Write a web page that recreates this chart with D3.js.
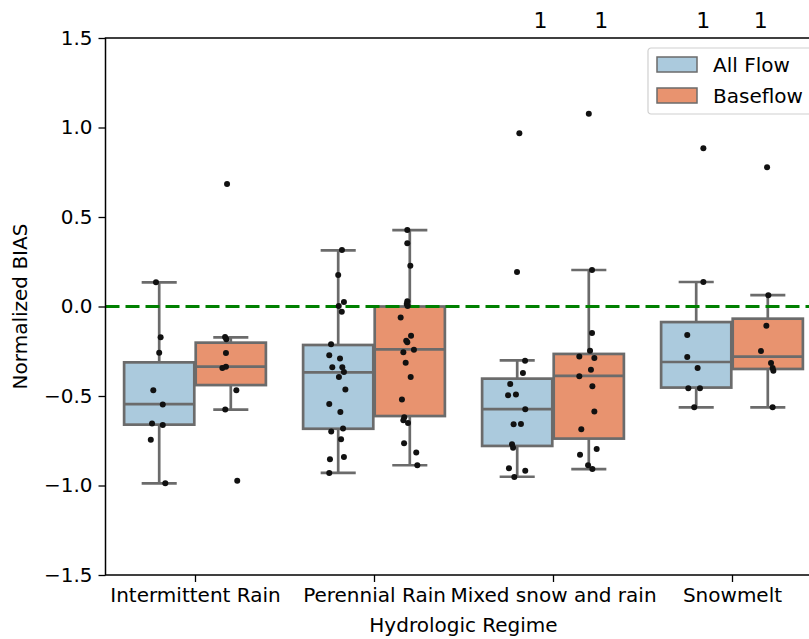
<!DOCTYPE html>
<html>
<head>
<meta charset="utf-8">
<script src="https://cdn.jsdelivr.net/npm/d3@7"></script>
<style>
  body { margin: 0; background: #fff; }
  svg { display: block; font-family: "DejaVu Sans", sans-serif; }
</style>
</head>
<body>
<svg id="chart" width="809" height="639"></svg>
<script>
var categories = ["Intermittent Rain", "Perennial Rain", "Mixed snow and rain", "Snowmelt"];
var hueNames = ["All Flow", "Baseflow"];
var hueColors = ["#abcadd", "#e8936f"];
var yTicks = [-1.5, -1.0, -0.5, 0.0, 0.5, 1.0, 1.5];

// [whisker low, q1, median, q3, whisker high] per category
var allFlowBox = [
  [-0.988, -0.660, -0.545, -0.312, 0.135],
  [-0.930, -0.683, -0.368, -0.215, 0.314],
  [-0.951, -0.779, -0.573, -0.403, -0.301],
  [-0.563, -0.453, -0.310, -0.087, 0.137]
];
var baseflowBox = [
  [-0.576, -0.439, -0.336, -0.202, -0.172],
  [-0.887, -0.612, -0.239, 0.000, 0.427],
  [-0.908, -0.738, -0.388, -0.265, 0.204],
  [-0.563, -0.349, -0.280, -0.068, 0.063]
];

// points: [value, jitter in category units]
var allFlowPoints = [
  [[0.135,-0.018],[-0.172,0.008],[-0.258,0],[-0.468,-0.033],[-0.548,0.020],[-0.653,-0.040],[-0.662,0.020],[-0.744,-0.047],[-0.988,0.034]],
  [[0.316,0.021],[0.176,0],[0.025,0.032],[0.003,0.003],[-0.029,0.020],[-0.211,-0.040],[-0.273,-0.050],[-0.291,0.010],[-0.340,-0.033],[-0.340,0.023],[-0.366,0.032],[-0.394,0.004],[-0.463,0.040],[-0.545,-0.050],[-0.589,0.012],[-0.681,0.027],[-0.699,-0.039],[-0.742,0.016],[-0.854,-0.046],[-0.841,0.032],[-0.930,-0.050]],
  [[0.968,0.012],[0.193,-0.001],[-0.303,0.044],[-0.372,0.032],[-0.433,-0.039],[-0.496,-0.051],[-0.491,-0.007],[-0.574,0.045],[-0.658,-0.020],[-0.656,0.021],[-0.770,-0.029],[-0.789,-0.023],[-0.904,-0.046],[-0.917,0.045],[-0.953,-0.016]],
  [[0.884,0.040],[0.137,0.040],[-0.159,-0.050],[-0.282,-0.050],[-0.344,0.008],[-0.457,-0.044],[-0.457,0.021],[-0.563,-0.011]]
];
var baseflowPoints = [
  [[0.684,-0.021],[-0.170,-0.032],[-0.183,-0.025],[-0.260,-0.027],[-0.336,-0.027],[-0.344,-0.047],[-0.468,0.031],[-0.576,-0.031],[-0.973,0.036]],
  [[0.427,-0.014],[0.353,-0.014],[0.228,0.003],[0.029,-0.014],[0.014,-0.017],[0.003,-0.012],[-0.062,-0.051],[-0.163,0.007],[-0.191,-0.020],[-0.200,-0.014],[-0.241,0.023],[-0.256,-0.036],[-0.314,-0.023],[-0.394,0.005],[-0.519,-0.044],[-0.619,-0.031],[-0.636,-0.036],[-0.651,-0.010],[-0.764,-0.032],[-0.815,0.036],[-0.887,0.042]],
  [[1.077,0],[0.204,0.018],[-0.148,0.018],[-0.247,0.007],[-0.280,-0.053],[-0.288,0.031],[-0.353,0.012],[-0.390,-0.053],[-0.446,0.020],[-0.586,0.031],[-0.686,-0.042],[-0.828,-0.049],[-0.796,0.044],[-0.887,-0.004],[-0.908,0.020]],
  [[0.778,-0.004],[0.063,0.003],[-0.107,-0.008],[-0.249,-0.038],[-0.316,0.018],[-0.344,0.027],[-0.359,0.031],[-0.563,0.027]]
];

// "1" labels above the plot, x in category units
var topNotes = [[1.93, "1"], [2.27, "1"], [2.84, "1"], [3.16, "1"]];

var svg = d3.select("#chart"),
    margin = {top: 38, left: 105.5},
    width = 716,
    height = 537,
    g = svg.append("g").attr("transform", "translate(" + margin.left + "," + margin.top + ")");

var x = d3.scaleLinear().domain([-0.5, 3.5]).range([0, width]);
var y = d3.scaleLinear().domain([-1.5, 1.5]).range([height, 0]);

var hueOffset = [-0.2, 0.2],
    boxW = 0.392,
    lineCol = "#6b6b6b",
    fs = 20;

var groups = [allFlowBox, baseflowBox];
var pts = [allFlowPoints, baseflowPoints];

// boxes
groups.forEach(function(boxes, h) {
  boxes.forEach(function(s, i) {
    var cx = i + hueOffset[h];
    var bg = g.append("g");
    bg.append("line")
        .attr("x1", x(cx)).attr("x2", x(cx))
        .attr("y1", y(s[0])).attr("y2", y(s[1]))
        .attr("stroke", lineCol).attr("stroke-width", 2.7);
    bg.append("line")
        .attr("x1", x(cx)).attr("x2", x(cx))
        .attr("y1", y(s[3])).attr("y2", y(s[4]))
        .attr("stroke", lineCol).attr("stroke-width", 2.7);
    [s[0], s[4]].forEach(function(v) {
      bg.append("line")
          .attr("x1", x(cx - boxW / 4)).attr("x2", x(cx + boxW / 4))
          .attr("y1", y(v)).attr("y2", y(v))
          .attr("stroke", lineCol).attr("stroke-width", 2.7);
    });
    bg.append("rect")
        .attr("x", x(cx - boxW / 2))
        .attr("y", y(s[3]))
        .attr("width", x(cx + boxW / 2) - x(cx - boxW / 2))
        .attr("height", y(s[1]) - y(s[3]))
        .attr("fill", hueColors[h])
        .attr("stroke", lineCol).attr("stroke-width", 2.7);
    bg.append("line")
        .attr("x1", x(cx - boxW / 2)).attr("x2", x(cx + boxW / 2))
        .attr("y1", y(s[2])).attr("y2", y(s[2]))
        .attr("stroke", lineCol).attr("stroke-width", 2.7);
  });
});

// zero reference line
g.append("line")
    .attr("x1", 0).attr("x2", width)
    .attr("y1", y(0)).attr("y2", y(0))
    .attr("stroke", "#008000").attr("stroke-width", 3)
    .attr("stroke-dasharray", "14,6");

// strip points
pts.forEach(function(cats, h) {
  cats.forEach(function(list, i) {
    g.selectAll(null).data(list).enter().append("circle")
        .attr("cx", function(d) { return x(i + hueOffset[h] + d[1]); })
        .attr("cy", function(d) { return y(d[0]); })
        .attr("r", 3)
        .attr("fill", "#111");
  });
});

// axes
var yAxis = d3.axisLeft(y).tickValues(yTicks).tickSize(7).tickPadding(6)
    .tickFormat(function(d) { return d3.format(".1f")(d).replace("-", "\u2212"); });
var xAxis = d3.axisBottom(x).tickValues(d3.range(categories.length)).tickSize(7).tickPadding(6)
    .tickFormat(function(d) { return categories[d]; });

g.append("g").call(yAxis).call(function(a) {
  a.select(".domain").remove();
  a.selectAll(".tick line").attr("stroke", "#000").attr("stroke-width", 1.3);
  a.selectAll(".tick text").attr("font-size", fs).attr("font-family", "DejaVu Sans").attr("fill", "#000");
});
g.append("g").attr("transform", "translate(0," + height + ")").call(xAxis).call(function(a) {
  a.select(".domain").remove();
  a.selectAll(".tick line").attr("stroke", "#000").attr("stroke-width", 1.3);
  a.selectAll(".tick text").attr("font-size", fs).attr("font-family", "DejaVu Sans").attr("fill", "#000");
});

// spines
g.append("rect")
    .attr("x", 0).attr("y", 0).attr("width", width).attr("height", height)
    .attr("fill", "none").attr("stroke", "#000").attr("stroke-width", 1.5);

// axis titles
svg.append("text")
    .attr("x", margin.left + x(1.5)).attr("y", 632)
    .attr("text-anchor", "middle").attr("font-size", fs)
    .text("Hydrologic Regime");
svg.append("text")
    .attr("transform", "translate(27," + (margin.top + y(0)) + ") rotate(-90)")
    .attr("text-anchor", "middle").attr("font-size", fs)
    .text("Normalized BIAS");

// top notes
svg.selectAll(".note").data(topNotes).enter().append("text")
    .attr("class", "note")
    .attr("x", function(d) { return margin.left + x(d[0]); })
    .attr("y", 28)
    .attr("text-anchor", "middle").attr("font-size", 22)
    .text(function(d) { return d[1]; });

// legend
var lg = svg.append("g").attr("transform", "translate(648,48)");
lg.append("rect")
    .attr("width", 170).attr("height", 66).attr("rx", 3)
    .attr("fill", "#fff").attr("fill-opacity", 0.8)
    .attr("stroke", "#d0d0d0").attr("stroke-width", 1.2);
hueNames.forEach(function(name, i) {
  lg.append("rect")
      .attr("x", 9).attr("y", 9 + i * 31).attr("width", 40).attr("height", 15)
      .attr("fill", hueColors[i]).attr("stroke", lineCol).attr("stroke-width", 1.5);
  lg.append("text")
      .attr("x", 65).attr("y", 24 + i * 31)
      .attr("font-size", fs)
      .text(name);
});
</script>
</body>
</html>
